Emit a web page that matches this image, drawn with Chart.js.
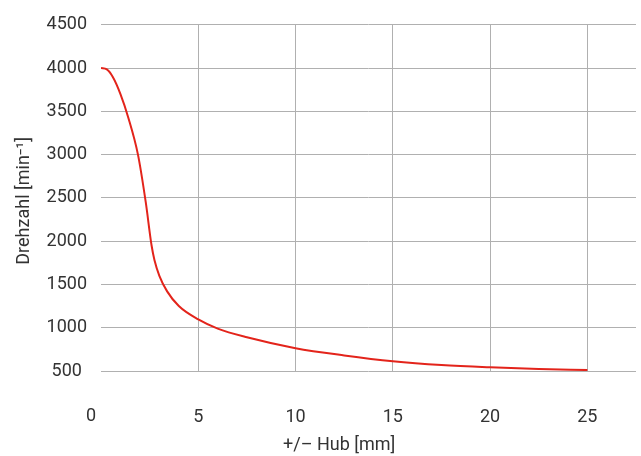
<!DOCTYPE html>
<html>
<head>
<meta charset="utf-8">
<script src="https://cdn.jsdelivr.net/npm/chart.js@4"></script>
<style>
  body { margin: 0; background: #fff; }
  canvas { display: block; }
</style>
</head>
<body>
<canvas id="chart" width="641" height="456"></canvas>
<script>
// Hub in mm, Drehzahl in min^-1
const hub = [0, 0.3, 0.6, 1.0, 1.4, 1.9, 2.3, 2.6, 2.75, 3.0, 3.4, 4.0, 5.0, 6.0, 7.5, 10, 12.5, 15, 17.5, 20, 22.5, 25];
const drehzahl = [4000, 3985, 3900, 3700, 3430, 3000, 2450, 1950, 1780, 1600, 1420, 1250, 1096, 990, 890, 764, 680, 612, 568, 542, 524, 511];
const xTicks = [0, 5, 10, 15, 20, 25];
const yTicks = [500, 1000, 1500, 2000, 2500, 3000, 3500, 4000, 4500];
const xTitle = "+/\u2013 Hub [mm]";
const yTitle = "Drehzahl [min\u207B\u00B9]";

const textColor = "#333";
const gridColor = "#b0b0b0";
const labelFont = { family: "Roboto", size: 18 };

// Draw axis titles and the shifted "0" label
const titlesPlugin = {
    id: "titles",
    afterDraw(chart) {
        const ctx = chart.ctx;
        const xs = chart.scales.x;
        const area = chart.chartArea;
        ctx.save();
        ctx.fillStyle = textColor;
        ctx.font = "18px Roboto";
        ctx.textAlign = "center";
        ctx.textBaseline = "middle";

        const zeroX = xs.getPixelForValue(0) - 10;
        ctx.fillText("0", zeroX, 416);

        const midX = (zeroX + xs.getPixelForValue(25)) / 2;
        ctx.fillText(xTitle, midX, 445);

        ctx.translate(24, (area.top + area.bottom) / 2 + 3);
        ctx.rotate(-Math.PI / 2);
        ctx.fillText(yTitle, 0, 0);
        ctx.restore();
    }
};

new Chart(document.getElementById("chart"), {
    type: "line",
    data: {
        datasets: [{
            data: hub.map((x, i) => ({ x: x, y: drehzahl[i] })),
            borderColor: "#e3241b",
            borderWidth: 2,
            pointRadius: 0,
            fill: false,
            cubicInterpolationMode: "monotone"
        }]
    },
    options: {
        responsive: false,
        animation: false,
        layout: { padding: { top: 20, right: 5, left: 0, bottom: 0 } },
        plugins: { legend: { display: false }, tooltip: { enabled: false } },
        scales: {
            x: {
                type: "linear",
                min: 0,
                max: 27.5,
                afterBuildTicks: (scale) => { scale.ticks = xTicks.map(v => ({ value: v })); },
                afterFit: (scale) => { scale.height = 456 - 371; },
                border: { display: false },
                grid: {
                    drawTicks: false,
                    color: (c) => (c.tick && c.tick.value === 0) ? "rgba(0,0,0,0)" : gridColor
                },
                ticks: {
                    color: textColor,
                    font: labelFont,
                    padding: 36,
                    maxRotation: 0,
                    callback: (v) => v === 0 ? "" : String(v)
                }
            },
            y: {
                min: 500,
                max: 4500,
                afterBuildTicks: (scale) => { scale.ticks = yTicks.map(v => ({ value: v })); },
                afterFit: (scale) => { scale.width = 101; },
                border: { display: false },
                grid: { drawTicks: false, color: gridColor },
                ticks: {
                    color: textColor,
                    font: labelFont,
                    padding: 14,
                    crossAlign: "center",
                    callback: (v) => String(v)
                }
            }
        }
    },
    plugins: [titlesPlugin]
});
</script>
</body>
</html>
